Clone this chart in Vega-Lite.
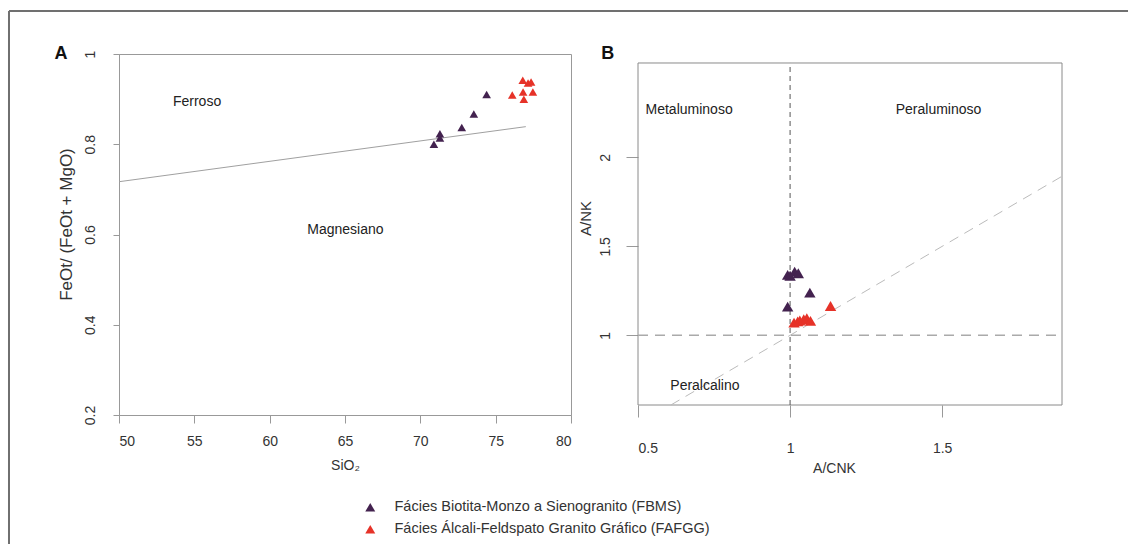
{
  "$schema": "https://vega.github.io/schema/vega-lite/v6.json",
  "background": "white",
  "padding": {"left": 7, "top": 9, "right": 0, "bottom": 0},
  "autosize": {"type": "pad"},
  "config": {
    "font": "Liberation Sans",
    "view": {"stroke": null},
    "axis": {
      "grid": false,
      "labelFont": "Liberation Sans",
      "titleFont": "Liberation Sans",
      "labelFontSize": 14,
      "titleFontSize": 14,
      "titleFontWeight": "normal",
      "labelColor": "#333333",
      "titleColor": "#333333",
      "tickColor": "#999999",
      "domainColor": "#999999"
    },
    "legend": {
      "labelFont": "Liberation Sans",
      "labelFontSize": 14.5,
      "labelColor": "#333333",
      "labelLimit": 0
    }
  },
  "datasets": {
    "frame": [
      {"x": 42.699, "y": 1.0953, "x2": 116.97, "y2": 1.0953},
      {"x": 42.699, "y": 1.0953, "x2": 42.699, "y2": -0.0859}
    ],
    "lineA": [
      {"x": 50, "y": 0.717},
      {"x": 77, "y": 0.839}
    ],
    "labelsA": [
      {"x": 55.18, "y": 0.894, "label": "Ferroso"},
      {"x": 65.03, "y": 0.61, "label": "Magnesiano"}
    ],
    "panelA": [
      {"x": 46.15, "y": 1.0, "label": "A"}
    ],
    "pointsA": [
      {"x": 70.9, "y": 0.8, "facies": "Fácies Biotita-Monzo a Sienogranito (FBMS)"},
      {"x": 71.3, "y": 0.823, "facies": "Fácies Biotita-Monzo a Sienogranito (FBMS)"},
      {"x": 71.3, "y": 0.814, "facies": "Fácies Biotita-Monzo a Sienogranito (FBMS)"},
      {"x": 72.75, "y": 0.837, "facies": "Fácies Biotita-Monzo a Sienogranito (FBMS)"},
      {"x": 73.55, "y": 0.867, "facies": "Fácies Biotita-Monzo a Sienogranito (FBMS)"},
      {"x": 74.4, "y": 0.91, "facies": "Fácies Biotita-Monzo a Sienogranito (FBMS)"},
      {"x": 76.8, "y": 0.942, "facies": "Fácies Álcali-Feldspato Granito Gráfico (FAFGG)"},
      {"x": 77.15, "y": 0.936, "facies": "Fácies Álcali-Feldspato Granito Gráfico (FAFGG)"},
      {"x": 77.35, "y": 0.938, "facies": "Fácies Álcali-Feldspato Granito Gráfico (FAFGG)"},
      {"x": 76.1, "y": 0.909, "facies": "Fácies Álcali-Feldspato Granito Gráfico (FAFGG)"},
      {"x": 76.82, "y": 0.916, "facies": "Fácies Álcali-Feldspato Granito Gráfico (FAFGG)"},
      {"x": 76.87, "y": 0.9, "facies": "Fácies Álcali-Feldspato Granito Gráfico (FAFGG)"},
      {"x": 77.47, "y": 0.916, "facies": "Fácies Álcali-Feldspato Granito Gráfico (FAFGG)"}
    ],
    "boxB": [
      {"x": 0.5, "x2": 1.894, "y": 0.608, "y2": 2.531}
    ],
    "vlineB": [
      {"x": 1, "y": 0.608, "x2": 1, "y2": 2.531}
    ],
    "hlineB": [
      {"x": 0.5, "y": 1, "x2": 1.894, "y2": 1}
    ],
    "diagB": [
      {"x": 0.608, "y": 0.608, "x2": 1.894, "y2": 1.894}
    ],
    "labelsB": [
      {"x": 0.668, "y": 2.267, "label": "Metaluminoso"},
      {"x": 1.488, "y": 2.267, "label": "Peraluminoso"},
      {"x": 0.72, "y": 0.714, "label": "Peralcalino"}
    ],
    "panelB": [
      {"x": 0.4004, "y": 2.579, "label": "B"}
    ],
    "pointsB": [
      {"x": 0.992, "y": 1.34, "facies": "Fácies Biotita-Monzo a Sienogranito (FBMS)"},
      {"x": 1.0, "y": 1.335, "facies": "Fácies Biotita-Monzo a Sienogranito (FBMS)"},
      {"x": 1.015, "y": 1.358, "facies": "Fácies Biotita-Monzo a Sienogranito (FBMS)"},
      {"x": 1.027, "y": 1.349, "facies": "Fácies Biotita-Monzo a Sienogranito (FBMS)"},
      {"x": 1.065, "y": 1.24, "facies": "Fácies Biotita-Monzo a Sienogranito (FBMS)"},
      {"x": 0.992, "y": 1.161, "facies": "Fácies Biotita-Monzo a Sienogranito (FBMS)"},
      {"x": 1.013, "y": 1.071, "facies": "Fácies Álcali-Feldspato Granito Gráfico (FAFGG)"},
      {"x": 1.025, "y": 1.078, "facies": "Fácies Álcali-Feldspato Granito Gráfico (FAFGG)"},
      {"x": 1.032, "y": 1.083, "facies": "Fácies Álcali-Feldspato Granito Gráfico (FAFGG)"},
      {"x": 1.045, "y": 1.09, "facies": "Fácies Álcali-Feldspato Granito Gráfico (FAFGG)"},
      {"x": 1.055, "y": 1.096, "facies": "Fácies Álcali-Feldspato Granito Gráfico (FAFGG)"},
      {"x": 1.067, "y": 1.081, "facies": "Fácies Álcali-Feldspato Granito Gráfico (FAFGG)"},
      {"x": 1.133, "y": 1.165, "facies": "Fácies Álcali-Feldspato Granito Gráfico (FAFGG)"}
    ]
  },
  "bounds": "flush",
  "spacing": 67,
  "hconcat": [
    {
      "width": 452,
      "height": 361,
      "view": {"stroke": "#999999", "strokeWidth": 1},
      "encoding": {
        "x": {
          "field": "x", "type": "quantitative",
          "scale": {"domain": [50, 80], "nice": false, "zero": false},
          "axis": {
            "values": [50, 55, 60, 65, 70, 75, 80],
            "title": "SiO₂",
            "tickSize": 8,
            "labelPadding": 11,
            "titlePadding": 10,
            "format": "d"
          }
        },
        "y": {
          "field": "y", "type": "quantitative",
          "scale": {"domain": [0.2, 1], "nice": false, "zero": false},
          "axis": {
            "values": [0.2, 0.4, 0.6, 0.8, 1],
            "format": ".1~f",
            "title": "FeOt/ (FeOt + MgO)",
            "titleFontSize": 17,
            "tickSize": 6,
            "labelAngle": -90,
            "labelAlign": "center",
            "labelBaseline": "bottom",
            "labelPadding": 16,
            "titlePadding": 8,
            "titleY": 170
          }
        }
      },
      "layer": [
        {
          "data": {"name": "frame"},
          "mark": {"type": "rule", "color": "#707070", "strokeWidth": 2, "clip": false},
          "encoding": {"x2": {"field": "x2"}, "y2": {"field": "y2"}}
        },
        {
          "data": {"name": "lineA"},
          "mark": {"type": "line", "color": "#a0a0a0", "strokeWidth": 1}
        },
        {
          "data": {"name": "labelsA"},
          "mark": {"type": "text", "fontSize": 14, "color": "#222222"},
          "encoding": {"text": {"field": "label"}}
        },
        {
          "data": {"name": "panelA"},
          "mark": {"type": "text", "fontSize": 18, "fontWeight": "bold", "color": "#111111", "clip": false},
          "encoding": {"text": {"field": "label"}}
        },
        {
          "data": {"name": "pointsA"},
          "mark": {"type": "point", "shape": "triangle-up", "filled": true, "size": 75, "opacity": 1},
          "encoding": {
            "color": {
              "field": "facies", "type": "nominal",
              "scale": {
                "domain": ["Fácies Biotita-Monzo a Sienogranito (FBMS)", "Fácies Álcali-Feldspato Granito Gráfico (FAFGG)"],
                "range": ["#43224f", "#e63228"]
              },
              "legend": {
                "title": null,
                "orient": "none",
                "legendX": 244,
                "legendY": 446,
                "direction": "vertical",
                "symbolType": "triangle-up",
                "symbolSize": 100,
                "symbolStrokeWidth": 0,
                "symbolOpacity": 1,
                "labelOffset": 17,
                "rowPadding": 7
              }
            }
          }
        }
      ]
    },
    {
      "width": 424,
      "height": 361,
      "view": {"stroke": null},
      "encoding": {
        "x": {
          "field": "x", "type": "quantitative",
          "scale": {"domain": [0.5, 1.894], "nice": false, "zero": false},
          "axis": {
            "values": [0.5, 1, 1.5],
            "format": ".1~f",
            "title": "A/CNK",
            "domain": false,
            "offset": -10,
            "tickSize": 12,
            "labelPadding": 24,
            "titlePadding": 6,
            "titleX": 196
          }
        },
        "y": {
          "field": "y", "type": "quantitative",
          "scale": {"domain": [0.5518, 2.5816], "nice": false, "zero": false},
          "axis": {
            "values": [1, 1.5, 2],
            "format": ".1~f",
            "title": "A/NK",
            "titleFontSize": 15,
            "domain": false,
            "tickSize": 12,
            "labelAngle": -90,
            "labelAlign": "center",
            "labelBaseline": "bottom",
            "labelPadding": 14,
            "titlePadding": 5,
            "titleY": 164
          }
        }
      },
      "layer": [
        {
          "data": {"name": "boxB"},
          "mark": {"type": "rect", "fill": null, "fillOpacity": 0, "stroke": "#8a8a8a", "strokeWidth": 1},
          "encoding": {"x2": {"field": "x2"}, "y2": {"field": "y2"}}
        },
        {
          "data": {"name": "diagB"},
          "mark": {"type": "rule", "color": "#bbbbbb", "strokeWidth": 1, "strokeDash": [10, 7]},
          "encoding": {"x2": {"field": "x2"}, "y2": {"field": "y2"}}
        },
        {
          "data": {"name": "hlineB"},
          "mark": {"type": "rule", "color": "#aaaaaa", "strokeWidth": 1.5, "strokeDash": [10, 7]},
          "encoding": {"x2": {"field": "x2"}, "y2": {"field": "y2"}}
        },
        {
          "data": {"name": "vlineB"},
          "mark": {"type": "rule", "color": "#555555", "strokeWidth": 1, "strokeDash": [5, 4]},
          "encoding": {"x2": {"field": "x2"}, "y2": {"field": "y2"}}
        },
        {
          "data": {"name": "labelsB"},
          "mark": {"type": "text", "fontSize": 14, "color": "#222222"},
          "encoding": {"text": {"field": "label"}}
        },
        {
          "data": {"name": "panelB"},
          "mark": {"type": "text", "fontSize": 18, "fontWeight": "bold", "color": "#111111", "clip": false},
          "encoding": {"text": {"field": "label"}}
        },
        {
          "data": {"name": "pointsB"},
          "mark": {"type": "point", "shape": "triangle-up", "filled": true, "size": 130, "opacity": 1},
          "encoding": {
            "color": {
              "field": "facies", "type": "nominal",
              "scale": {
                "domain": ["Fácies Biotita-Monzo a Sienogranito (FBMS)", "Fácies Álcali-Feldspato Granito Gráfico (FAFGG)"],
                "range": ["#43224f", "#e63228"]
              }
            }
          }
        }
      ]
    }
  ]
}
